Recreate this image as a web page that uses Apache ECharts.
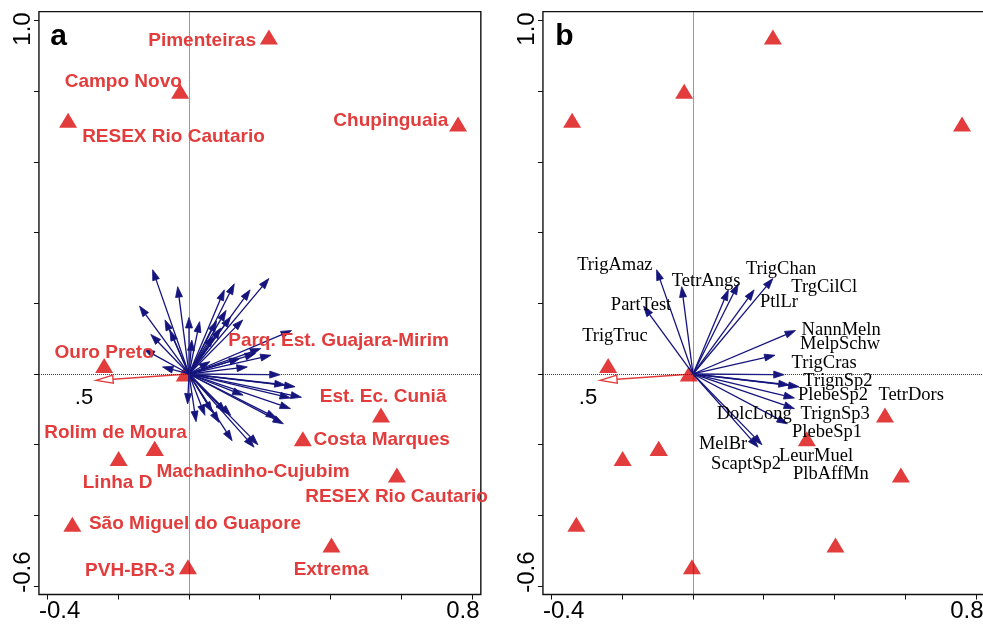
<!DOCTYPE html>
<html><head><meta charset="utf-8">
<script src="https://cdn.jsdelivr.net/npm/echarts@6/dist/echarts.min.js"></script>
<style>html,body{margin:0;padding:0;background:#fff}#c{width:983px;height:630px}</style>
</head><body><div id="c"></div>
<script>
// ================= DATA =================
// Sites (triangles)
const siteNames = ['Pimenteiras','Campo Novo','RESEX Rio Cautario','Chupinguaia','Parq. Est. Guajara-Mirim','Ouro Preto','Est. Ec. Cuniã','Rolim de Moura','Costa Marques','Machadinho-Cujubim','Linha D','RESEX Rio Cautario','São Miguel do Guapore','PVH-BR-3','Extrema'];
const siteX = [0.226,-0.025,-0.342,0.761,-0.012,-0.240,0.543,-0.097,0.322,-0.097,-0.199,0.588,-0.330,-0.003,0.403];
const siteY = [0.953,0.800,0.718,0.707,0.000,0.024,-0.116,-0.211,-0.183,-0.211,-0.239,-0.286,-0.425,-0.545,-0.484];
// Where each site name is written (axis units)
const siteLabelX = [0.037,-0.186,-0.044,0.571,0.423,-0.240,0.549,-0.208,0.545,0.181,-0.202,0.587,0.017,-0.167,0.402];
const siteLabelY = [0.942,0.826,0.670,0.716,0.093,0.059,-0.065,-0.167,-0.187,-0.277,-0.308,-0.348,-0.424,-0.557,-0.554];

// Species vectors (arrow tips)
const speciesX = [-0.103,-0.140,-0.032,-0.068,-0.108,-0.127,-0.075,0.000,0.030,0.008,-0.054,0.100,0.128,0.173,0.226,0.118,0.152,0.090,0.069,0.290,0.232,0.203,0.188,0.165,0.258,0.144,0.059,0.272,0.300,0.318,0.287,0.153,0.287,0.248,0.267,-0.004,0.020,0.045,0.066,0.085,0.122,0.118,0.184,0.195,0.104,0.105,0.078];
const speciesY = [0.295,0.192,0.247,0.153,0.112,0.070,0.020,0.160,0.148,0.096,0.124,0.238,0.255,0.238,0.270,0.162,0.153,0.130,0.108,0.123,0.053,0.072,0.058,0.020,-0.002,0.044,0.035,-0.031,-0.036,-0.066,-0.068,-0.060,-0.098,-0.125,-0.141,-0.085,-0.135,-0.117,-0.108,-0.137,-0.189,-0.117,-0.207,-0.200,-0.108,0.180,0.150];
// Species vectors shown in panel b (indices into the arrays above)
const panelBSpecies = [0,1,2,11,12,13,14,19,20,24,27,28,30,32,34,42,43];
// Species names in panel b and where they are written (axis units)
const speciesLabels = ['TrigAmaz','TetrAngs','TrigChan','TrgCilCl','PtlLr','PartTest','TrigTruc','NannMeln','MelpSchw','TrigCras','TrignSp2','PlebeSp2','TetrDors','DolcLong','TrignSp3','PlebeSp1','MelBr','LeurMuel','ScaptSp2','PlbAffMn'];
const speciesLabelX = [-0.221,0.037,0.249,0.371,0.243,-0.147,-0.221,0.419,0.416,0.371,0.410,0.396,0.617,0.173,0.402,0.379,0.085,0.348,0.150,0.390];
const speciesLabelY = [0.308,0.263,0.297,0.247,0.203,0.195,0.107,0.124,0.085,0.031,-0.020,-0.059,-0.059,-0.113,-0.113,-0.164,-0.198,-0.232,-0.255,-0.283];

// Environmental vector (red open arrow)
const envX = [-0.263];
const envY = [-0.018];

// Axes
const xTicks = [-0.4,-0.2,0,0.2,0.4,0.6,0.8];
const yTicks = [-0.6,-0.4,-0.2,0,0.2,0.4,0.6,0.8,1.0];
const xTickLabels = [-0.4,0.8];
const yTickLabels = [1.0,-0.6];
const X_MIN = -0.4245, X_MAX = 0.8255, Y_MIN = -0.624, Y_MAX = 1.025;

// ================= STYLE =================
const RED = '#e23c3c', NAVY = '#14147c';
const SANS = '"Liberation Sans", Arial, Helvetica, sans-serif';
const SERIF = '"Liberation Serif", "Times New Roman", serif';

const chart = echarts.init(document.getElementById('c'), null, {renderer:'canvas'});

const gridBase = {top: 11.66, width: 441.9, height: 582.9, show: true, borderColor: '#111', borderWidth: 1.4, backgroundColor: 'transparent', containLabel: false, outerBoundsMode: 'none'};

function xAxisFor(g) {
  return {
    type: 'value', gridIndex: g, min: X_MIN, max: X_MAX, position: 'bottom',
    axisLine: {show: false, onZero: false}, splitLine: {show: false},
    axisTick: {show: true, inside: false, customValues: xTicks, length: 5, lineStyle: {color: '#111', width: 1}},
    axisLabel: {
      show: true, customValues: xTickLabels, margin: 5, color: '#000',
      fontFamily: SANS, fontSize: 24,
      formatter: v => (v < 0 ? '{l|' : '{r|') + v.toFixed(1) + '}',
      rich: {
        l: {fontFamily: SANS, fontSize: 24, color: '#000', padding: [0,0,0,24]},
        r: {fontFamily: SANS, fontSize: 24, color: '#000', padding: [0,18,0,0]}
      }
    }
  };
}
function yAxisFor(g) {
  return {
    type: 'value', gridIndex: g, min: Y_MIN, max: Y_MAX, position: 'left',
    axisLine: {show: false, onZero: false}, splitLine: {show: false},
    axisTick: {show: true, inside: false, customValues: yTicks, length: 5, lineStyle: {color: '#111', width: 1}},
    axisLabel: {
      show: true, customValues: yTickLabels, margin: 4, rotate: 90, color: '#000',
      fontFamily: SANS, fontSize: 24,
      formatter: v => (v > 0 ? '{t|' : '{b|') + v.toFixed(1) + '}',
      rich: {
        t: {fontFamily: SANS, fontSize: 24, color: '#000', padding: [0,17,0,0]},
        b: {fontFamily: SANS, fontSize: 24, color: '#000', padding: [0,0,0,28]}
      }
    }
  };
}

function arrowRenderer(color, headLen, headW, hollow, lw) {
  return function (params, api) {
    const p0 = api.coord([0, 0]);
    const p1 = api.coord([api.value(0), api.value(1)]);
    const dx = p1[0] - p0[0], dy = p1[1] - p0[1];
    const L = Math.hypot(dx, dy) || 1;
    const ux = dx / L, uy = dy / L;
    const bx = p1[0] - ux * headLen, by = p1[1] - uy * headLen;
    const nx = -uy * headW / 2, ny = ux * headW / 2;
    return {
      type: 'group',
      children: [
        {type: 'line', shape: {x1: p0[0], y1: p0[1], x2: bx, y2: by}, style: {stroke: color, lineWidth: lw}},
        {type: 'polygon', shape: {points: [[p1[0], p1[1]], [bx + nx, by + ny], [bx - nx, by - ny]]},
         style: {fill: hollow ? '#fff' : color, stroke: color, lineWidth: hollow ? 1.4 : 0.8}}
      ]
    };
  };
}
function textRenderer(labels, font, color) {
  return function (params, api) {
    const p = api.coord([api.value(0), api.value(1)]);
    return {type: 'text', x: p[0], y: p[1],
      style: {text: labels[params.dataIndex], font: font, fill: color, align: 'center', verticalAlign: 'middle'}};
  };
}

const siteData = siteX.map((x, i) => [x, siteY[i]]);
const siteLabelData = siteLabelX.map((x, i) => [x, siteLabelY[i]]);
const speciesDataA = speciesX.map((x, i) => [x, speciesY[i]]);
const speciesDataB = panelBSpecies.map(i => [speciesX[i], speciesY[i]]);
const speciesLabelData = speciesLabelX.map((x, i) => [x, speciesLabelY[i]]);
const envData = envX.map((x, i) => [x, envY[i]]);

function panelSeries(g, arrows, labelData, labels, labelFont, labelColor) {
  return [
    {
      type: 'scatter', xAxisIndex: g, yAxisIndex: g, data: siteData,
      symbol: 'triangle', symbolSize: [18, 15], itemStyle: {color: RED, opacity: 1}, silent: true, z: 2,
      markLine: {
        silent: true, symbol: ['none', 'none'], label: {show: false},
        lineStyle: {color: '#333', type: [1, 1], width: 1, opacity: 1},
        emphasis: {disabled: true},
        data: [{xAxis: 0}, {yAxis: 0}]
      }
    },
    {type: 'custom', xAxisIndex: g, yAxisIndex: g, data: envData, z: 3, silent: true,
     renderItem: arrowRenderer(RED, 17, 8, true, 1.6)},
    {type: 'custom', xAxisIndex: g, yAxisIndex: g, data: arrows, z: 4, silent: true,
     renderItem: arrowRenderer(NAVY, 10.5, 7, false, 1.3)},
    {type: 'custom', xAxisIndex: g, yAxisIndex: g, data: labelData, z: 5, silent: true,
     renderItem: textRenderer(labels, labelFont, labelColor)}
  ];
}

const option = {
  backgroundColor: '#fff',
  animation: false,
  grid: [Object.assign({left: 38.94}, gridBase), Object.assign({left: 542.94}, gridBase)],
  xAxis: [xAxisFor(0), xAxisFor(1)],
  yAxis: [yAxisFor(0), yAxisFor(1)],
  series: [].concat(
    panelSeries(0, speciesDataA, siteLabelData, siteNames, 'bold 19px ' + SANS, RED),
    panelSeries(1, speciesDataB, speciesLabelData, speciesLabels, '18.5px ' + SERIF, '#000')
  ),
  graphic: [
    {type: 'text', x: 58.5, y: 37, style: {text: 'a', font: 'bold 30px ' + SANS, fill: '#000', align: 'center', verticalAlign: 'middle'}},
    {type: 'text', x: 564.5, y: 37, style: {text: 'b', font: 'bold 30px ' + SANS, fill: '#000', align: 'center', verticalAlign: 'middle'}},
    {type: 'text', x: 84, y: 398, style: {text: '.5', font: '22px ' + SANS, fill: '#000', align: 'center', verticalAlign: 'middle'}},
    {type: 'text', x: 588, y: 398, style: {text: '.5', font: '22px ' + SANS, fill: '#000', align: 'center', verticalAlign: 'middle'}}
  ]
};
chart.setOption(option);
</script>
</body></html>
